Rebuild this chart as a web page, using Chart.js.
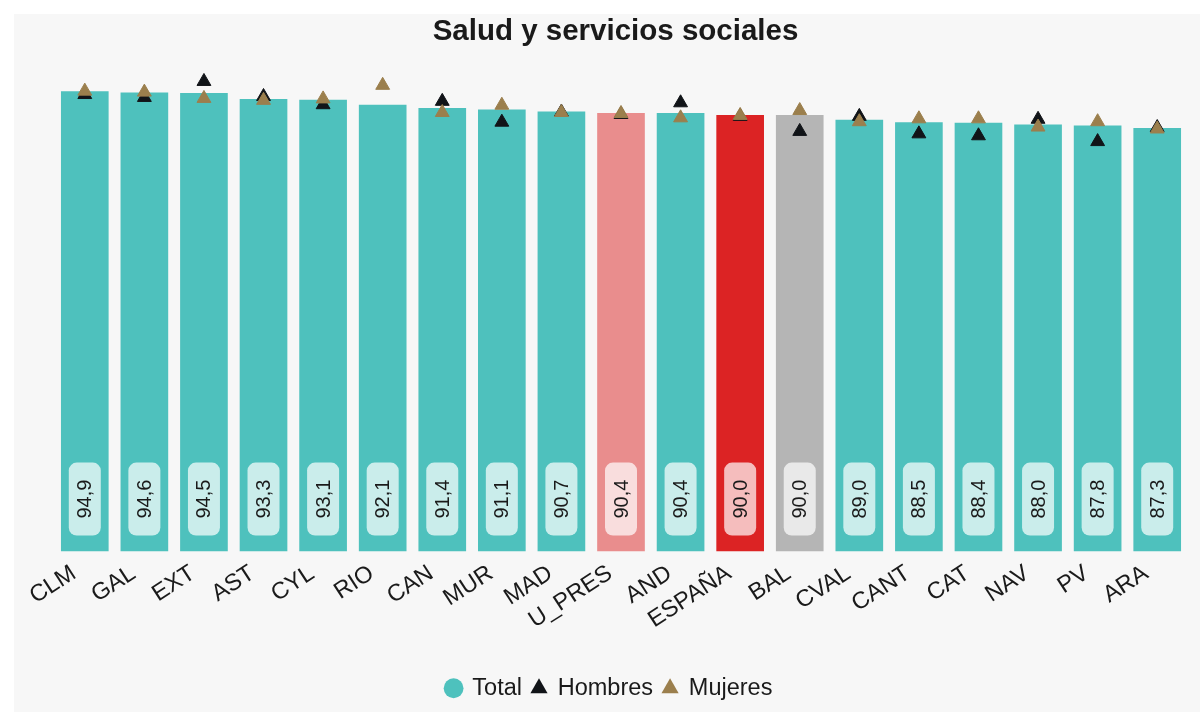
<!DOCTYPE html>
<html>
<head>
<meta charset="utf-8">
<script src="https://cdn.jsdelivr.net/npm/chart.js@4"></script>
<style>
  body { margin: 0; background: #fff; }
  .panel { position: absolute; left: 14px; top: 14px; width: 1186px; height: 698px; background: #f7f7f7; }
</style>
</head>
<body>
<div class="panel"><canvas id="chart"></canvas></div>
<script>
const categories = ["CLM", "GAL", "EXT", "AST", "CYL", "RIO", "CAN", "MUR", "MAD", "U_PRES",
  "AND", "ESPAÑA", "BAL", "CVAL", "CANT", "CAT", "NAV", "PV", "ARA"];
const totalValues = [94.9, 94.6, 94.5, 93.3, 93.1, 92.1, 91.4, 91.1, 90.7, 90.4,
  90.4, 90.0, 90.0, 89.0, 88.5, 88.4, 88.0, 87.8, 87.3];
const hombresValues = [94.2, 93.6, 96.9, 93.8, 92.1, null, 92.8, 88.5, 90.6, 90.1,
  92.5, 89.7, 86.6, 89.7, 86.1, 85.7, 89.1, 84.5, 87.4];
const mujeresValues = [94.9, 94.7, 93.4, 93.0, 93.3, 96.1, 90.5, 92.0, 90.5, 90.3,
  89.4, 89.9, 90.9, 88.6, 89.2, 89.2, 87.5, 88.6, 87.1];

const FONT = '"Liberation Sans", Arial, sans-serif';
const TEAL = "#4ec1bd";
const specialColors = { "U_PRES": "#e98d8d", "ESPAÑA": "#dc2324", "BAL": "#b5b5b5" };
const barColors = categories.map((c) => specialColors[c] || TEAL);

// value boxes drawn inside each bar, near the bottom
const barLabels = {
  id: "barLabels",
  afterDatasetDraw(chart, args) {
    if (args.index !== 0) return;
    const ctx = chart.ctx;
    ctx.save();
    ctx.font = "20px " + FONT;
    args.meta.data.forEach((bar, i) => {
      const text = totalValues[i].toFixed(1).replace(".", ",");
      const tw = ctx.measureText(text).width;
      const w = 32, h = tw + 34;
      const x = bar.x - w / 2, y = bar.base - 16 - h;
      ctx.fillStyle = "rgba(255,255,255,0.7)";
      ctx.beginPath();
      ctx.roundRect(x, y, w, h, 8);
      ctx.fill();
      ctx.save();
      ctx.translate(bar.x, y + h / 2);
      ctx.rotate(-Math.PI / 2);
      ctx.fillStyle = "#1a1a1a";
      ctx.textAlign = "center";
      ctx.textBaseline = "middle";
      ctx.fillText(text, 0, 1);
      ctx.restore();
    });
    ctx.restore();
  }
};

// legend sits a little left of the title centre in the original
const legendShift = {
  id: "legendShift",
  afterLayout(chart) {
    chart.legend.left -= 6;
    chart.legend.right -= 6;
  }
};

new Chart(document.getElementById("chart"), {
  type: "bar",
  data: {
    labels: categories,
    datasets: [
      {
        label: "Total",
        data: totalValues,
        backgroundColor: barColors,
        borderWidth: 0,
        categoryPercentage: 0.8,
        barPercentage: 1.0,
        order: 3,
      },
      {
        label: "Hombres",
        type: "line",
        data: hombresValues,
        showLine: false,
        pointStyle: "triangle",
        pointRadius: 8,
        borderWidth: 1,
        backgroundColor: "#111418",
        borderColor: "#111418",
        order: 2,
      },
      {
        label: "Mujeres",
        type: "line",
        data: mujeresValues,
        showLine: false,
        pointStyle: "triangle",
        pointRadius: 8,
        borderWidth: 1,
        backgroundColor: "#9b7f4d",
        borderColor: "#9b7f4d",
        order: 1,
      },
    ],
  },
  options: {
    responsive: true,
    maintainAspectRatio: false,
    animation: false,
    layout: { padding: { left: 30, right: 13, top: 0, bottom: 2 } },
    plugins: {
      title: {
        display: true,
        text: "Salud y servicios sociales",
        color: "#1a1a1a",
        font: { size: 29.5, weight: "bold", family: FONT },
        padding: { top: 0, bottom: 17 },
      },
      legend: {
        position: "bottom",
        labels: {
          usePointStyle: true,
          boxWidth: 14,
          boxHeight: 14,
          padding: 10,
          color: "#1a1a1a",
          font: { size: 23.5, family: FONT },
          sort: (a, b) => a.datasetIndex - b.datasetIndex,
          generateLabels(chart) {
            const items = Chart.defaults.plugins.legend.labels.generateLabels(chart);
            items.forEach((it) => {
              it.pointStyle = it.datasetIndex === 0 ? "circle" : "triangle";
              it.strokeStyle = it.fillStyle;
              it.lineWidth = 0;
            });
            return items;
          },
        },
      },
      tooltip: { enabled: false },
    },
    scales: {
      x: {
        grid: { display: false },
        border: { display: false },
        afterFit(scale) {
          scale.height = 115;
          scale.paddingLeft = 41;
          scale.paddingRight = 0;
        },
        ticks: {
          autoSkip: false,
          minRotation: 33,
          maxRotation: 33,
          labelOffset: -11,
          padding: 0,
          color: "#1a1a1a",
          font: { size: 23.5, family: FONT },
        },
      },
      y: { display: false, min: 0, max: 100 },
    },
  },
  plugins: [barLabels, legendShift],
});
</script>
</body>
</html>
